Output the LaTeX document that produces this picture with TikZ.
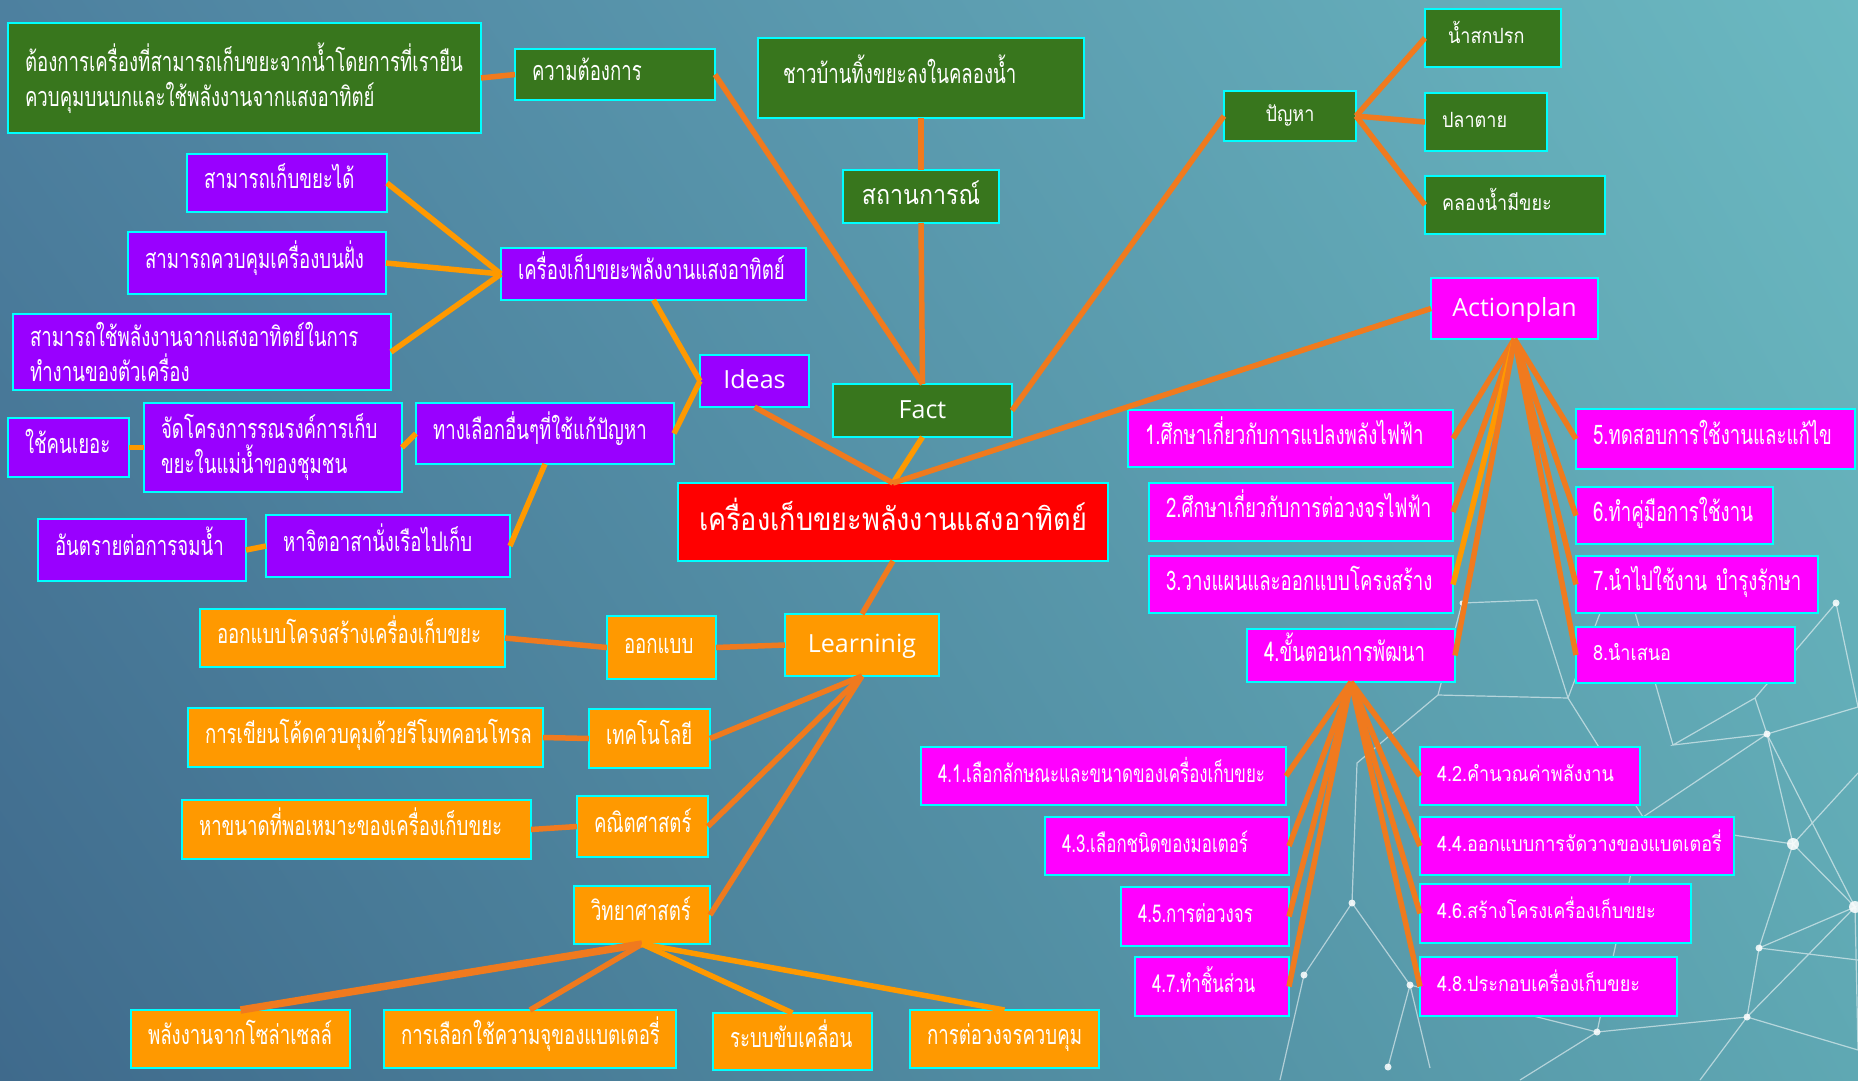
\documentclass[tikz,border=0pt]{standalone}
\usepackage{fontspec}
\usetikzlibrary{shadings}
\newfontfamily\thC[Script=Thai,FakeStretch=0.69]{Loma}
\newfontfamily\thN[Script=Thai,FakeStretch=0.86]{Loma}
\newfontfamily\latn{Open Sans}
\definecolor{factfill}{HTML}{38761D}
\definecolor{ideafill}{HTML}{9900FF}
\definecolor{planfill}{HTML}{FF00FF}
\definecolor{learnfill}{HTML}{FF9900}
\definecolor{hubfill}{HTML}{FF0000}
\definecolor{rim}{HTML}{00FFFF}
\definecolor{wireD}{HTML}{F07A1E}
\definecolor{wireL}{HTML}{FF9900}
\definecolor{bgUL}{HTML}{4D809F}
\definecolor{bgUR}{HTML}{6BB9C1}
\definecolor{bgLL}{HTML}{3F6A8C}
\definecolor{bgLR}{HTML}{5FA8B3}

% box: style, name, x1, y1, x2, y2, text  (pixel-like units, y downwards)
\newcommand\boxnode[7]{%
  \pgfmathsetmacro\bxw{#5-#3}%
  \pgfmathsetmacro\bxh{#6-#4}%
  \pgfmathsetmacro\bxt{#5-#3-34}%
  \node[card,#1,minimum width=\bxw pt,minimum height=\bxh pt,text width=\bxt pt]
    (#2) at ({(#3+#5)/2},{(#4+#6)/2}) {#7};}

\tikzset{
  card/.style={draw=rim, line width=2.4pt, inner xsep=17pt, inner ysep=0pt,
               outer sep=0pt, text=white},
  leftt/.style={align=left},
  midt/.style={align=center},
  twolines/.style={text height={}, text depth={}},
  factbox/.style={fill=factfill},
  ideabox/.style={fill=ideafill},
  planbox/.style={fill=planfill},
  learnbox/.style={fill=learnfill},
  hubbox/.style={fill=hubfill},
  small/.style={font=\thC\fontsize{27}{35}\selectfont, text height=18pt, text depth=7pt},
  smaller/.style={font=\thC\fontsize{24.5}{30}\selectfont, text height=17pt, text depth=5pt},
  plain/.style={font=\thN\fontsize{21}{28}\selectfont, text height=15pt, text depth=5pt},
  plainbig/.style={font=\thN\fontsize{27}{32}\selectfont, text height=20pt, text depth=5pt},
  hubfont/.style={font=\thN\fontsize{31.5}{36}\selectfont, text height=26pt, text depth=10pt},
  latin/.style={font=\latn\fontsize{25}{30}\selectfont, text height=18pt, text depth=3pt},
  wire/.style={draw=wireD, line width=5.5pt},
  wirel/.style={draw=wireL, line width=5.5pt},
  net/.style={draw=white, draw opacity=0.55, line width=1.2pt},
  netdot/.style={fill=white, fill opacity=0.85},
}

\begin{document}
\begin{tikzpicture}[x=1pt,y=-1pt]
% background
\shade[upper left=bgUL, upper right=bgUR, lower left=bgLL, lower right=bgLR]
  (0,0) rectangle (1858,1080);
\useasboundingbox (0,0) rectangle (1858,1080);

% network pattern, lower right
\path[net]
  (1767,734) -- (1793,844) -- (1855,907) -- (1767,734)
  (1767,734) -- (1858,707)
  (1767,734) -- (1673,745) -- (1755,698) -- (1767,734)
  (1767,734) -- (1643,817)
  (1793,844) -- (1858,773)
  (1793,844) -- (1759,948) -- (1855,907) -- (1747,1017) -- (1759,948)
  (1793,844) -- (1700,830)
  (1747,1017) -- (1597,1032) -- (1520,1080)
  (1747,1017) -- (1858,1050)
  (1759,948) -- (1858,960)
  (1747,1017) -- (1700,1080)
  (1597,1032) -- (1643,817)
  (1597,1032) -- (1410,985) -- (1430,1068)
  (1410,985) -- (1388,1067)
  (1410,985) -- (1352,903) -- (1357,763)
  (1304,975) -- (1352,903)
  (1304,975) -- (1280,1080)
  (1357,763) -- (1438,695) -- (1568,698) -- (1537,600)
  (1568,698) -- (1620,560)
  (1438,695) -- (1462,603) -- (1537,600)
  (1836,603) -- (1858,707)
  (1836,603) -- (1755,698)
  (1855,907) -- (1858,1050)
  (1643,817) -- (1568,698)
  (1673,745) -- (1620,560);
\foreach \x/\y/\r in {1767/734/3.5,1793/844/6,1855/907/6,1759/948/3.5,1747/1017/3.5,
                   1597/1032/3.5,1836/603/3.5,1410/985/3.5,1388/1067/3.5,1352/903/3.5,
                   1304/975/3.5,1462/603/2.5}
  \fill[netdot] (\x,\y) circle[radius=\r pt];

% ---- Fact branch (green)
\boxnode{factbox,small,leftt,twolines}{need}{8}{23}{481}{133}{ต้องการเครื่องที่สามารถเก็บขยะจากน้ำโดยการที่เรายืน\\ควบคุมบนบกและใช้พลังงานจากแสงอาทิตย์}
\boxnode{factbox,small,leftt}{want}{515}{49}{715}{100}{ความต้องการ}
\boxnode{factbox,small,leftt}{scene}{758}{38}{1084}{118}{\hspace*{8pt}ชาวบ้านทิ้งขยะลงในคลองน้ำ}
\boxnode{factbox,plainbig,midt}{situ}{843}{170}{999}{223}{สถานการณ์}
\boxnode{factbox,latin,midt}{fact}{833}{384}{1012}{437}{Fact}
\boxnode{factbox,plain,midt}{prob}{1224}{91}{1356}{141}{ปัญหา}
\boxnode{factbox,plain,leftt}{dirty}{1425}{9}{1561}{67}{\hspace*{6pt}น้ำสกปรก}
\boxnode{factbox,plain,leftt}{fish}{1425}{93}{1547}{151}{ปลาตาย}
\boxnode{factbox,plain,leftt}{canal}{1425}{176}{1605}{234}{คลองน้ำมีขยะ}

% ---- Ideas branch (purple)
\boxnode{ideabox,latin,midt}{ideas}{700}{355}{809}{407}{Ideas}
\boxnode{ideabox,small,leftt}{device}{501}{248}{806}{300}{เครื่องเก็บขยะพลังงานแสงอาทิตย์}
\boxnode{ideabox,small,leftt}{collect}{187}{154}{387}{212}{สามารถเก็บขยะได้}
\boxnode{ideabox,small,leftt}{remote}{128}{232}{386}{294}{สามารถควบคุมเครื่องบนฝั่ง}
\boxnode{ideabox,small,leftt,twolines}{solar}{13}{314}{391}{390}{สามารถใช้พลังงานจากแสงอาทิตย์ในการ\\ทำงานของตัวเครื่อง}
\boxnode{ideabox,small,leftt}{other}{416}{403}{674}{464}{ทางเลือกอื่นๆที่ใช้แก้ปัญหา}
\boxnode{ideabox,small,leftt,twolines}{campaign}{144}{403}{402}{492}{จัดโครงการรณรงค์การเก็บ\\ขยะในแม่น้ำของชุมชน}
\boxnode{ideabox,small,leftt}{people}{8}{418}{129}{477}{ใช้คนเยอะ}
\boxnode{ideabox,small,leftt}{boat}{266}{515}{510}{577}{หาจิตอาสานั่งเรือไปเก็บ}
\boxnode{ideabox,small,leftt}{danger}{38}{519}{246}{581}{อันตรายต่อการจมน้ำ}

% ---- centre
\boxnode{hubbox,hubfont,midt}{hub}{678}{483}{1108}{561}{เครื่องเก็บขยะพลังงานแสงอาทิตย์}

% ---- Learning branch (orange)
\boxnode{learnbox,latin,midt}{learn}{785}{614}{939}{676}{Learninig}
\boxnode{learnbox,small,leftt}{design}{607}{616}{716}{679}{ออกแบบ}
\boxnode{learnbox,small,leftt}{frame}{200}{609}{505}{667}{ออกแบบโครงสร้างเครื่องเก็บขยะ}
\boxnode{learnbox,small,leftt}{tech}{589}{709}{710}{768}{เทคโนโลยี}
\boxnode{learnbox,small,leftt}{code}{188}{708}{543}{767}{การเขียนโค้ดควบคุมด้วยรีโมทคอนโทรล}
\boxnode{learnbox,small,leftt}{math}{577}{796}{708}{857}{คณิตศาสตร์}
\boxnode{learnbox,small,leftt}{size}{182}{800}{531}{859}{หาขนาดที่พอเหมาะของเครื่องเก็บขยะ}
\boxnode{learnbox,small,leftt}{sci}{574}{886}{710}{944}{วิทยาศาสตร์}
\boxnode{learnbox,small,leftt}{cell}{131}{1010}{350}{1068}{พลังงานจากโซล่าเซลล์}
\boxnode{learnbox,small,leftt}{battery}{384}{1010}{676}{1068}{การเลือกใช้ความจุของแบตเตอรี่}
\boxnode{learnbox,small,leftt}{drive}{713}{1013}{872}{1070}{ระบบขับเคลื่อน}
\boxnode{learnbox,small,leftt}{circuit}{910}{1010}{1099}{1068}{การต่อวงจรควบคุม}

% ---- Action plan branch (magenta)
\boxnode{planbox,latin,midt}{plan}{1431}{278}{1598}{339}{Actionplan}
\boxnode{planbox,small,leftt}{s1}{1128}{410}{1453}{467}{1.ศึกษาเกี่ยวกับการแปลงพลังไฟฟ้า}
\boxnode{planbox,small,leftt}{s2}{1149}{483}{1453}{541}{2.ศึกษาเกี่ยวกับการต่อวงจรไฟฟ้า}
\boxnode{planbox,small,leftt}{s3}{1149}{556}{1453}{613}{3.วางแผนและออกแบบโครงสร้าง}
\boxnode{planbox,small,leftt}{s4}{1247}{629}{1455}{682}{4.ขั้นตอนการพัฒนา}
\boxnode{planbox,small,leftt}{s5}{1576}{409}{1855}{469}{5.ทดสอบการใช้งานและแก้ไข}
\boxnode{planbox,small,leftt}{s6}{1576}{487}{1773}{544}{6.ทำคู่มือการใช้งาน}
\boxnode{planbox,small,leftt}{s7}{1576}{556}{1818}{613}{7.นำไปใช้งาน~บำรุงรักษา}
\boxnode{planbox,plain,leftt}{s8}{1576}{627}{1795}{683}{8.นำเสนอ}
\boxnode{planbox,smaller,leftt}{d1}{921}{747}{1286}{805}{4.1.เลือกลักษณะและขนาดของเครื่องเก็บขยะ}
\boxnode{planbox,plain,leftt}{d2}{1420}{747}{1640}{805}{4.2.คำนวณค่าพลังงาน}
\boxnode{planbox,smaller,leftt}{d3}{1045}{817}{1289}{875}{4.3.เลือกชนิดของมอเตอร์}
\boxnode{planbox,plain,leftt}{d4}{1420}{817}{1734}{875}{4.4.ออกแบบการจัดวางของแบตเตอรี่}
\boxnode{planbox,smaller,leftt}{d5}{1121}{887}{1289}{946}{4.5.การต่อวงจร}
\boxnode{planbox,plain,leftt}{d6}{1420}{884}{1691}{943}{4.6.สร้างโครงเครื่องเก็บขยะ}
\boxnode{planbox,smaller,leftt}{d7}{1135}{957}{1289}{1016}{4.7.ทำชิ้นส่วน}
\boxnode{planbox,plain,leftt}{d8}{1420}{957}{1677}{1016}{4.8.ประกอบเครื่องเก็บขยะ}

% ---- connectors
% fact
\draw[wire] (need.east) -- (want.west);
\draw[wire] (want.east) -- (fact.north);
\draw[wire] (scene.south) -- (situ.north);
\draw[wire] (situ.south) -- (fact.north);
\draw[wire] (fact.east) -- (prob.west);
\draw[wire] (prob.east) -- (dirty.west);
\draw[wire] (prob.east) -- (fish.west);
\draw[wire] (prob.east) -- (canal.west);
\draw[wirel] (fact.south) -- (hub.north);
% ideas
\draw[wirel] (collect.east) -- (device.west);
\draw[wirel] (remote.east) -- (device.west);
\draw[wirel] (solar.east) -- (device.west);
\draw[wirel] (device.south) -- (ideas.west);
\draw[wirel] (other.east) -- (ideas.west);
\draw[wirel] (people.east) -- (campaign.west);
\draw[wirel] (campaign.east) -- (other.west);
\draw[wirel] (other.south) -- (boat.east);
\draw[wirel] (danger.east) -- (boat.west);
\draw[wire] (ideas.south) -- (hub.north);
% action plan
\draw[wire] (plan.west) -- (hub.north);
\draw[wire] (plan.south) -- (s1.east);
\draw[wire] (plan.south) -- (s2.east);
\draw[wirel] (plan.south) -- (s3.east);
\draw[wire] (plan.south) -- (s4.east);
\draw[wire] (plan.south) -- (s5.west);
\draw[wire] (plan.south) -- (s6.west);
\draw[wire] (plan.south) -- (s7.west);
\draw[wire] (plan.south) -- (s8.west);
\foreach \n in {d1,d3,d5,d7} \draw[wire] (s4.south) -- (\n.east);
\foreach \n in {d2,d4,d6,d8} \draw[wire] (s4.south) -- (\n.west);
% learning
\draw[wire] (hub.south) -- (learn.north);
\draw[wire] (frame.east) -- (design.west);
\draw[wire] (design.east) -- (learn.west);
\draw[wire] (code.east) -- (tech.west);
\draw[wire] (size.east) -- (math.west);
\draw[wire] (tech.east) -- (learn.south);
\draw[wire] (math.east) -- (learn.south);
\draw[wire] (sci.east) -- (learn.south);
\draw[wire, line width=7.5pt] (sci.south) -- (cell.north);
\draw[wire] (sci.south) -- (battery.north);
\draw[wirel] (sci.south) -- (drive.north);
\draw[wirel] (sci.south) -- (circuit.north);
\end{tikzpicture}
\end{document}
